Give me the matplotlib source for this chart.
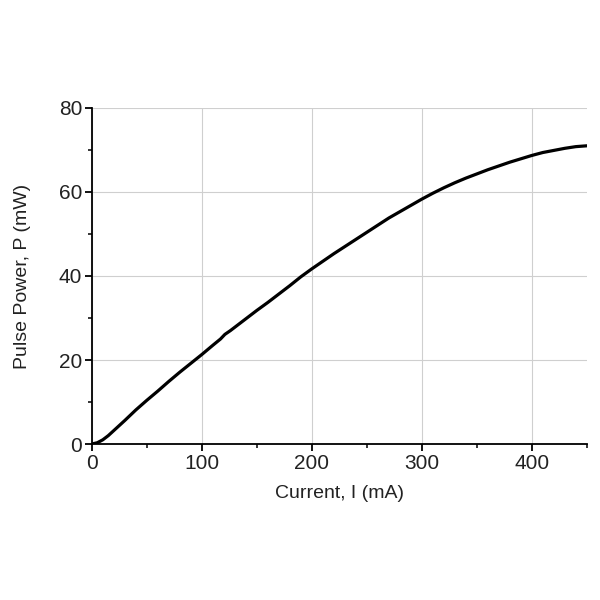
import numpy as np
import matplotlib
matplotlib.use("Agg")
import matplotlib.pyplot as plt
from matplotlib.ticker import MultipleLocator

# ---------- Data ----------
current = [0, 5, 10, 15, 20, 30, 40, 50, 60, 70, 80, 90, 100, 110, 117, 121,
           126, 130, 140, 150, 160, 170, 180, 190, 200, 210, 220, 230, 240,
           250, 260, 270, 280, 290, 300, 310, 320, 330, 340, 350, 360, 370,
           380, 390, 400, 410, 420, 430, 440, 450]
power = [0, 0.3, 1.0, 2.0, 3.2, 5.6, 8.1, 10.4, 12.6, 14.9, 17.1, 19.2, 21.3,
         23.5, 25.0, 26.1, 27.0, 27.8, 29.8, 31.8, 33.7, 35.7, 37.7, 39.8,
         41.7, 43.5, 45.3, 47.0, 48.7, 50.4, 52.1, 53.8, 55.3, 56.8, 58.3,
         59.7, 61.0, 62.2, 63.3, 64.3, 65.3, 66.2, 67.1, 67.9, 68.7, 69.4,
         69.9, 70.4, 70.8, 71.0]

plt.rcParams["font.family"] = ["Liberation Sans", "DejaVu Sans"]

fig = plt.figure(figsize=(6, 6), dpi=100)
ax = fig.add_axes([0.153, 0.26, 0.825, 0.56])

ax.plot(current, power, color="black", lw=2.3, solid_capstyle="round",
        solid_joinstyle="round")

ax.set_xlim(0, 450)
ax.set_ylim(0, 80)
ax.xaxis.set_major_locator(MultipleLocator(100))
ax.xaxis.set_minor_locator(MultipleLocator(50))
ax.yaxis.set_major_locator(MultipleLocator(20))
ax.yaxis.set_minor_locator(MultipleLocator(10))

ax.grid(True, which="major", color="#cfcfcf", lw=0.8)
ax.set_axisbelow(True)
for s in ["top", "right"]:
    ax.spines[s].set_visible(False)
for s in ["left", "bottom"]:
    ax.spines[s].set_linewidth(1.3)

ax.tick_params(which="major", direction="out", length=5, width=1.3, labelsize=15, pad=2,
               labelcolor="#222222")
ax.tick_params(which="minor", direction="out", length=3, width=1.1)

ax.set_xlabel("Current, I (mA)", fontsize=14, labelpad=9, color="#222222")
ax.set_ylabel("Pulse Power, P (mW)", fontsize=14, labelpad=20, color="#222222")

fig.savefig("out.png", dpi=100)
